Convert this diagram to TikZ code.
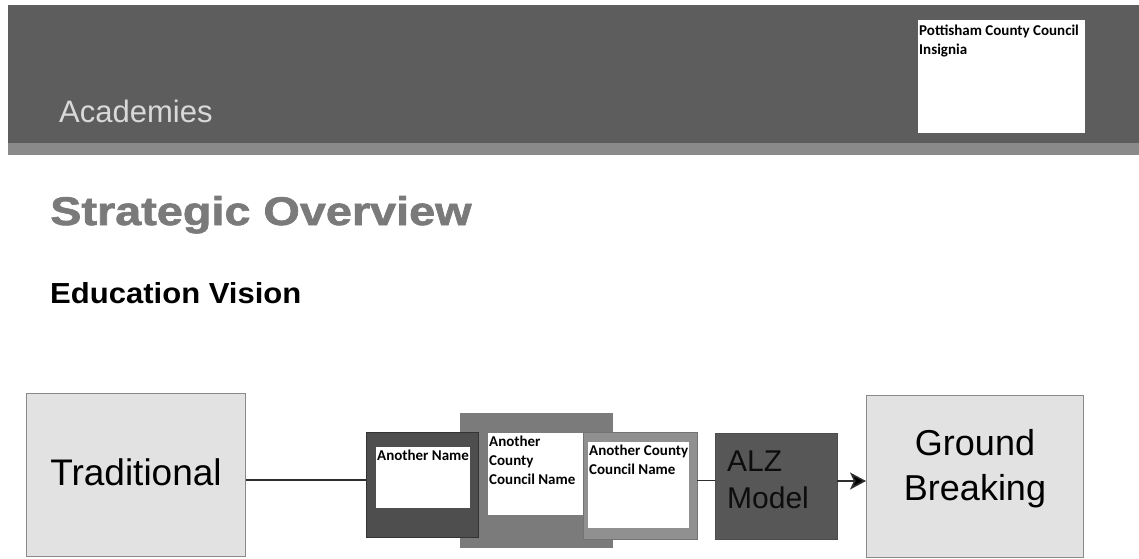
\documentclass[tikz,border=0pt]{standalone}
\usepackage{fontspec}
\setmainfont{Liberation Sans}
\newfontfamily\cardfont{Carlito}
\newfontfamily\heavyfont[FakeBold=1.5]{Liberation Sans Bold}
\usetikzlibrary{positioning,arrows.meta}
\definecolor{bandgray}{HTML}{5D5D5D}
\definecolor{bandlow}{HTML}{8A8A8A}
\definecolor{titlegray}{HTML}{7A7A7A}
\definecolor{lightfill}{HTML}{E2E2E2}
\definecolor{boxedge}{HTML}{8A8A8A}
\definecolor{framea}{HTML}{4E4E4E}
\definecolor{frameb}{HTML}{7B7B7B}
\definecolor{framec}{HTML}{909090}
\definecolor{alzfill}{HTML}{575757}
\definecolor{linegray}{HTML}{2E2E2E}
\tikzset{
  bigbox/.style={draw=boxedge, fill=lightfill, line width=1pt, anchor=north west,
    minimum width=219pt, minimum height=163pt},
  bigtext/.style={inner sep=0pt, align=center, font=\fontsize{36}{45}\selectfont},
  framebox/.style={anchor=north west, inner sep=0pt, outer sep=0pt},
  cardbox/.style={anchor=north west, fill=white, inner sep=0pt, outer sep=0pt},
  cardtext/.style={anchor=north west, inner xsep=1pt, inner ysep=3pt, align=left,
    font=\cardfont\bfseries\fontsize{15}{19}\selectfont},
  line/.style={draw=linegray, line width=1.6pt},
}
\begin{document}
\begin{tikzpicture}[x=1pt, y=-1pt]
  \useasboundingbox (0,0) rectangle (1139,558);
  % Header band
  \fill[bandgray] (8,5) rectangle (1139,143);
  \fill[bandlow] (8,143) rectangle (1139,155);
  \node[anchor=base west, inner sep=0pt, text=black!15, font=\fontsize{31}{34}\selectfont]
    (academies) at (59,122) {Academies};
  \node[cardbox, minimum width=167pt, minimum height=113pt] (insignia) at (918,20) {};
  \node[cardtext, inner ysep=5pt] (insigniatext) at (insignia.north west) {Pottisham County Council\\Insignia};
  % Titles
  \node[anchor=base west, inner sep=0pt, text=titlegray, font=\heavyfont\fontsize{40}{44}\selectfont,
    xscale=1.17, transform shape] (title) at (50,225) {Strategic Overview};
  \node[anchor=base west, inner sep=0pt, font=\bfseries\fontsize{29}{32}\selectfont,
    xscale=1.07, transform shape] (vision) at (50,303) {Education Vision};
  % Place nodes
  \node[bigbox] (trad) at (26,393) {};
  \node[bigtext, font=\fontsize{37}{45}\selectfont] (tradtext) at ([yshift=3pt]trad.center) {Traditional};
  \node[framebox, fill=frameb, minimum width=153pt, minimum height=135pt] (nameb) at (460,413) {};
  \node[cardbox, minimum width=95pt, minimum height=82pt] (cardb) at (488,433) {};
  \node[cardtext] (textb) at (cardb.north west) {Another\\County\\Council Name};
  \node[framebox, fill=framea, draw=black!80, minimum width=112pt, minimum height=105pt] (namea) at (366,432) {};
  \node[cardbox, minimum width=94pt, minimum height=61pt] (carda) at (376,447) {};
  \node[cardtext] (texta) at (carda.north west) {Another Name};
  \node[framebox, fill=framec, draw=black!55, minimum width=114pt, minimum height=107pt] (namec) at (583,432) {};
  \node[cardbox, minimum width=101pt, minimum height=86pt] (cardc) at (588,442) {};
  \node[cardtext] (textc) at (cardc.north west) {Another County\\Council Name};
  \node[framebox, fill=alzfill, draw=black!70, minimum width=122pt, minimum height=106pt] (alz) at (715,433) {};
  \node[anchor=base west, inner sep=0pt, align=left, text=black!95, font=\fontsize{30}{37}\selectfont]
    (alztext) at (727,508) {ALZ\\Model};
  \node[bigbox, minimum width=217pt, minimum height=162pt] (ground) at (866,395) {};
  \node[bigtext] (groundtext) at ([yshift=8pt]ground.center) {Ground\\Breaking};
  % Draw edges
  \coordinate (tradout) at ([yshift=-5pt]trad.east);
  \coordinate (alzout) at ([yshift=5pt]alz.east);
  \path[line] (tradout) -- (tradout -| namea.west);
  \path[line] ([yshift=5pt]namec.east) -- ([yshift=5pt]namec.east -| alz.west);
  \path[line, -{Stealth[length=16pt, width=17pt, inset=4pt, fill=black]}] (alzout) -- (alzout -| ground.west);
\end{tikzpicture}
\end{document}
